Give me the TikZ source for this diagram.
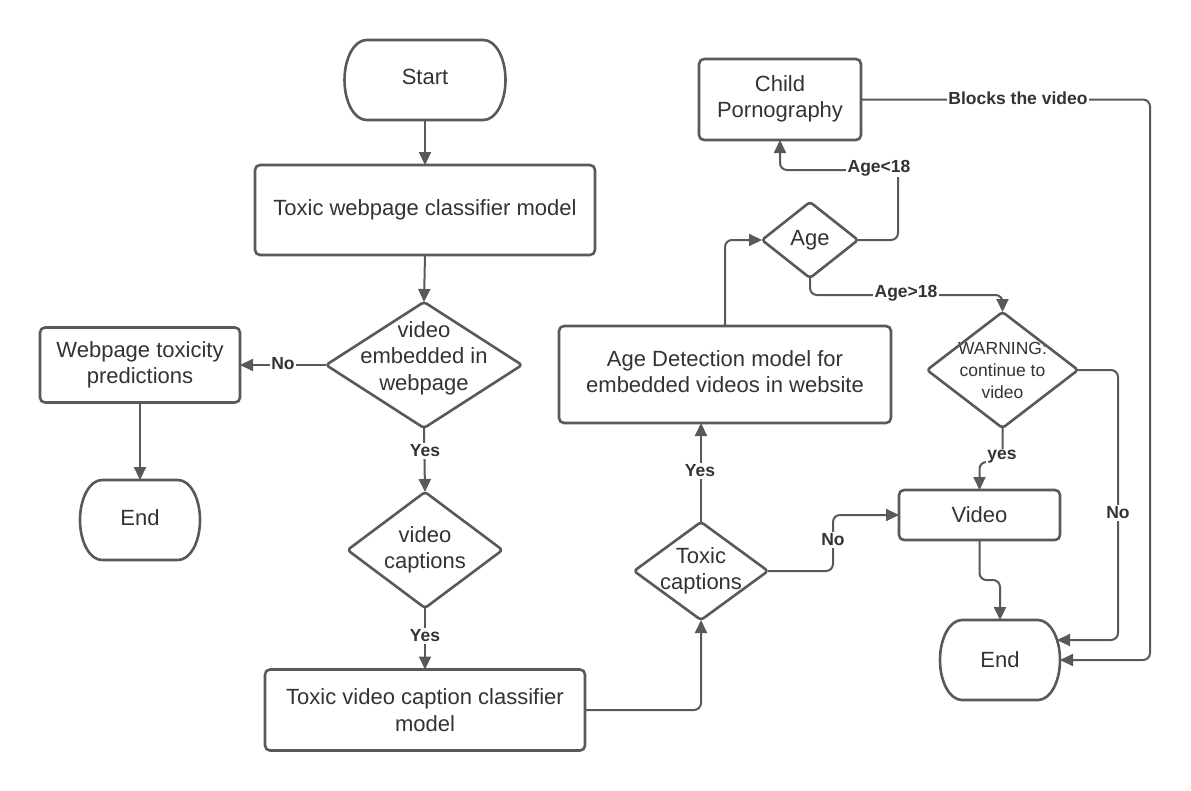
\documentclass[tikz,border=0pt]{standalone}
\usepackage{fontspec}
\setmainfont{Liberation Sans}
\usetikzlibrary{arrows.meta,calc}
\definecolor{ln}{HTML}{595959}
\definecolor{tx}{HTML}{333333}
\newcommand\mainfnt{\fontsize{22}{26.5}\selectfont}
\newcommand\smallfnt{\fontsize{17.5}{22}\selectfont}
\newcommand\labfnt{\bfseries\fontsize{17.5}{20}\selectfont}
\newcommand\termnode[6]{%
  \node[plain, minimum width=#4pt, minimum height=#5pt] (#1) at (#2,#3) {#6};
  \draw[shapeline] ($(#1.north west)+(22pt,0)$) -- ($(#1.north east)+(-22pt,0)$)
    arc[start angle=90, end angle=-90, x radius=22pt, y radius=#5pt/2]
    -- ($(#1.south west)+(22pt,0)$)
    arc[start angle=270, end angle=90, x radius=22pt, y radius=#5pt/2] -- cycle;
}
\newcommand\dianode[7]{%
  \node[plain, font=#7, minimum width=#4pt, minimum height=#5pt] (#1) at (#2,#3) {#6};
  \draw[shapeline, rounded corners=3pt] (#1.north) -- (#1.east) -- (#1.south) -- (#1.west) -- cycle;
}
\begin{document}
\begin{tikzpicture}[x=1pt,y=-1pt,
  shapeline/.style={draw=ln, line width=2.6pt, line join=round},
  plain/.style={rectangle, draw=none, outer sep=0pt, inner sep=0pt, text=tx, font=\mainfnt, align=center},
  box/.style={plain, shapeline, rounded corners=5pt},
  conn/.style={draw=ln, line width=2pt, rounded corners=7pt, -{Triangle[length=13pt,width=12pt]}},
  lab/.style={fill=white, text=tx, font=\labfnt, inner sep=1.5pt}]
\fill[white] (0,0) rectangle (1191,790);
\useasboundingbox (0,0) rectangle (1191,790);

% shapes
\termnode{start}{425}{80}{161}{80}{Start\\[-21pt]\mbox{}}
\node[box, minimum width=340pt, minimum height=90pt] (toxweb) at (425,210) {Toxic webpage classifier model};
\dianode{embed}{424}{365}{196}{126}{video\\embedded in\\webpage\\[-8pt]\mbox{}}{\mainfnt}
\node[box, minimum width=200pt, minimum height=75pt] (wtp) at (140,365) {Webpage toxicity\\predictions};
\termnode{endL}{140}{520}{120}{80}{End\\[-21pt]\mbox{}}
\dianode{vcap}{425}{550}{155}{116}{video\\captions\\[-22pt]\mbox{}}{\mainfnt}
\node[box, minimum width=320pt, minimum height=81pt] (tvc) at (425,710) {Toxic video caption classifier\\model};
\dianode{tcap}{701}{571}{134}{98}{Toxic\\captions\\[-22pt]\mbox{}}{\mainfnt}
\node[box, minimum width=332pt, minimum height=97pt] (agedet) at (725,374.5) {Age Detection model for\\embedded videos in website\\[-21pt]\mbox{}};
\dianode{age}{810}{240}{96}{76}{Age}{\mainfnt}
\node[box, minimum width=162pt, minimum height=81pt] (child) at (780,99.5) {Child\\Pornography\\[-21pt]\mbox{}};
\dianode{warn}{1002.5}{370}{151}{116}{WARNING:\\continue to\\video}{\smallfnt}
\node[box, minimum width=161pt, minimum height=50pt] (video) at (979.5,515) {Video};
\termnode{endR}{1000}{660}{120}{80}{End}

% helper coordinates
\coordinate (c1) at (898,170);
\coordinate (c2) at (1002.5,295);
\coordinate (c3) at (1118,640);
\coordinate (c4) at (1002.5,462);
\coordinate (c5) at (1000,580);
\coordinate (c6) at (833,540);
\coordinate (c7) at (1150,400);

% connectors
\draw[conn] (start.south) -- (toxweb.north);
\draw[conn] (toxweb.south) -- (embed.north);
\draw[conn] (embed.west) -- (wtp.east);
\draw[conn] (wtp.south) -- (endL.north);
\draw[conn] (embed.south) -- (vcap.north);
\draw[conn] (vcap.south) -- (tvc.north);
\draw[conn] (tvc.east) -| (tcap.south);
\draw[conn] (tcap.north) -- (tcap.north |- agedet.south);
\draw[conn] (agedet.north) |- (age.west);
\draw[conn] (age.east) -| (c1) -| (child.south);
\draw[conn] (age.south) |- (c2) -- (warn.north);
\draw[conn] (warn.east) -| (c3) -- ($(endR.east |- c3)+(-3,0)$);
\draw[conn] (warn.south) -- (c4) -| (video.north);
\draw[conn] (video.south) |- (c5) -- (endR.north);
\draw[conn] (tcap.east) -| (c6) |- (video.west);
\draw[conn] (child.east) -| (c7) |- (endR.east);

% labels
\node[lab] (lNo1) at (283,364) {No};
\node[lab] (lYes1) at (425,451) {Yes};
\node[lab] (lYes2) at (425,636) {Yes};
\node[lab] (lYes3) at (700,471) {Yes};
\node[lab] (lAgeLt) at (879,168) {Age<18};
\node[lab] (lAgeGt) at (906,293) {Age>18};
\node[lab] (lBlock) at (1018,98) {Blocks the video};
\node[lab] (lNo2) at (1118,513) {No};
\node[lab] (lyes) at (1002,457) {yes};
\node[lab] (lNo3) at (833,540) {No};
\end{tikzpicture}
\end{document}
